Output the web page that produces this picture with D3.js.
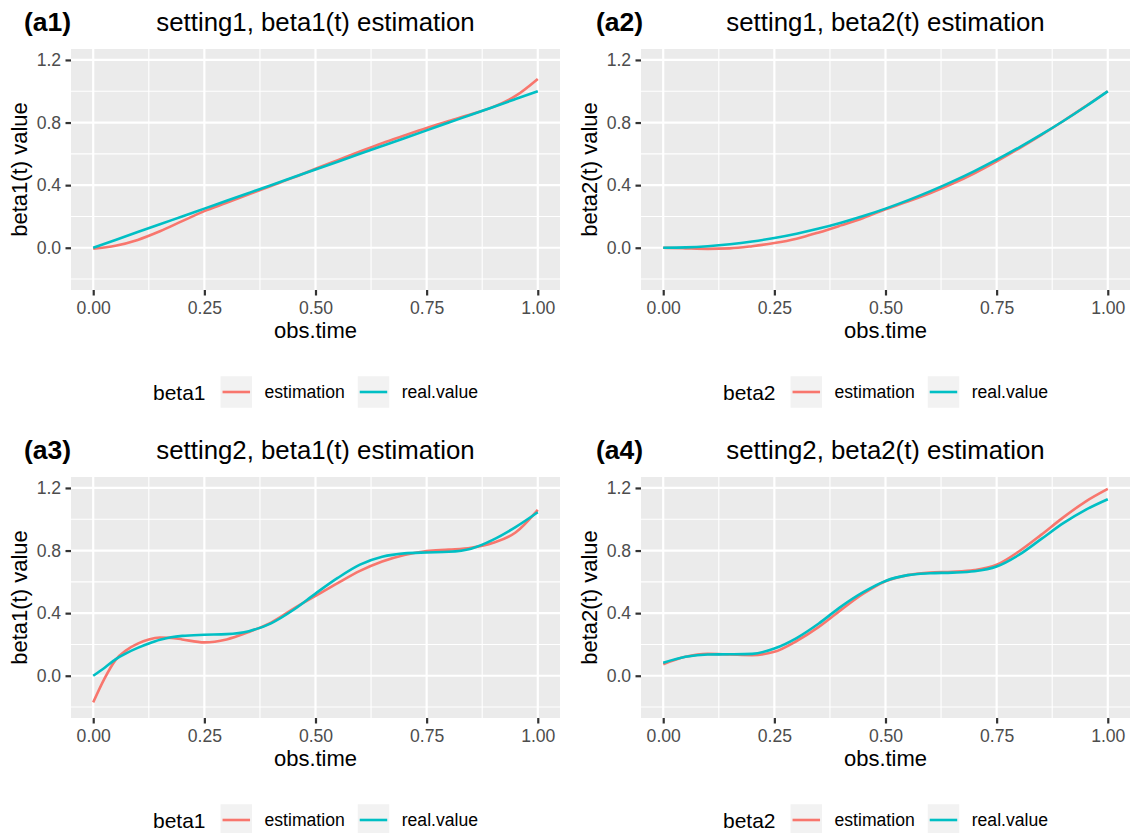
<!DOCTYPE html>
<html>
<head>
<meta charset="utf-8">
<script src="https://cdn.jsdelivr.net/npm/d3@7"></script>
<style>
  body { margin: 0; background: #fff; }
  svg { display: block; font-family: "Liberation Sans", Arial, sans-serif; }
</style>
</head>
<body>
<div id="chart"></div>
<script>
var obsTime = [0, 0.05, 0.1, 0.15, 0.2, 0.25, 0.3, 0.35, 0.4, 0.45, 0.5,
               0.55, 0.6, 0.65, 0.7, 0.75, 0.8, 0.85, 0.9, 0.95, 1];
var obsTimeFine = [0, 0.025, 0.05, 0.075, 0.1, 0.125, 0.15, 0.175, 0.2, 0.25, 0.3, 0.35, 0.4,
                   0.45, 0.5, 0.55, 0.6, 0.65, 0.7, 0.75, 0.8, 0.85, 0.9, 0.95, 1];

// setting1, beta1
var s1b1Est  = [-0.006, 0.013, 0.05, 0.105, 0.17, 0.234, 0.287, 0.342, 0.395, 0.448, 0.505,
                0.56, 0.615, 0.668, 0.717, 0.765, 0.81, 0.853, 0.9, 0.97, 1.079];
var s1b1Real = [0, 0.05, 0.1, 0.15, 0.2, 0.25, 0.3, 0.35, 0.4, 0.45, 0.5,
                0.55, 0.6, 0.65, 0.7, 0.75, 0.8, 0.85, 0.9, 0.95, 1];
// setting1, beta2
var s1b2Est  = [0, -0.004, -0.007, -0.004, 0.01, 0.03, 0.058, 0.098, 0.143, 0.19, 0.246,
                0.296, 0.348, 0.408, 0.476, 0.552, 0.634, 0.72, 0.81, 0.904, 1.0];
var s1b2Real = [0, 0.0025, 0.01, 0.0225, 0.04, 0.0625, 0.09, 0.1225, 0.16, 0.2025, 0.25,
                0.3025, 0.36, 0.4225, 0.49, 0.5625, 0.64, 0.7225, 0.81, 0.9025, 1];
// setting2, beta1 (finer grid)
var s2b1Est  = [-0.17, -0.02, 0.1, 0.164, 0.205, 0.232, 0.244, 0.242, 0.232, 0.213, 0.232, 0.28, 0.34,
                0.428, 0.51, 0.592, 0.67, 0.73, 0.772, 0.797, 0.806, 0.818, 0.85, 0.915, 1.06];
var s2b1Real = [0, 0.05, 0.105, 0.145, 0.178, 0.206, 0.23, 0.246, 0.255, 0.262, 0.266, 0.285, 0.335,
                0.42, 0.525, 0.625, 0.71, 0.76, 0.782, 0.788, 0.792, 0.812, 0.87, 0.95, 1.045];
// setting2, beta2
var s2b2Est  = [0.074, 0.121, 0.14, 0.136, 0.132, 0.153, 0.222, 0.312, 0.421, 0.524, 0.604,
                0.643, 0.66, 0.664, 0.675, 0.709, 0.794, 0.9, 1.012, 1.113, 1.194];
var s2b2Real = [0.083, 0.121, 0.136, 0.137, 0.14, 0.174, 0.241, 0.334, 0.442, 0.534, 0.606,
                0.643, 0.655, 0.659, 0.668, 0.698, 0.772, 0.873, 0.975, 1.06, 1.128];

var seriesNames = ["estimation", "real.value"];
var seriesColors = ["#F8766D", "#00BFC4"];
var xBreaks = [0, 0.25, 0.5, 0.75, 1];
var xMinor = [0.125, 0.375, 0.625, 0.875];
var yBreaks = [0, 0.4, 0.8, 1.2];
var yMinor = [-0.2, 0.2, 0.6, 1.0];

var panels = [
  {tag: "(a1)", title: "setting1, beta1(t) estimation", ylab: "beta1(t) value", legend: "beta1",
   t: obsTime, est: s1b1Est, real: s1b1Real, col: 0, row: 0},
  {tag: "(a2)", title: "setting1, beta2(t) estimation", ylab: "beta2(t) value", legend: "beta2",
   t: obsTime, est: s1b2Est, real: s1b2Real, col: 1, row: 0},
  {tag: "(a3)", title: "setting2, beta1(t) estimation", ylab: "beta1(t) value", legend: "beta1",
   t: obsTimeFine, est: s2b1Est, real: s2b1Real, col: 0, row: 1},
  {tag: "(a4)", title: "setting2, beta2(t) estimation", ylab: "beta2(t) value", legend: "beta2",
   t: obsTime, est: s2b2Est, real: s2b2Real, col: 1, row: 1}
];

var width = 1136, height = 833;
var panelW = 489, panelH = 241;
var colX = [71, 641];
var rowY = [49, 477];
var tagX = [24, 596];

var svg = d3.select("#chart").append("svg")
    .attr("width", width)
    .attr("height", height);

panels.forEach(function (p) {
    var left = colX[p.col], top = rowY[p.row];
    var g = svg.append("g").attr("transform", "translate(" + left + "," + top + ")");

    var x = d3.scaleLinear().domain([-0.05, 1.05]).range([0, panelW]);
    var y = d3.scaleLinear().domain([-0.27, 1.27]).range([panelH, 0]);

    g.append("rect")
        .attr("width", panelW).attr("height", panelH)
        .attr("fill", "#EBEBEB");

    // grid
    g.selectAll(".ymin").data(yMinor).enter().append("line")
        .attr("x1", 0).attr("x2", panelW)
        .attr("y1", function (d) { return y(d); }).attr("y2", function (d) { return y(d); })
        .attr("stroke", "#fff").attr("stroke-width", 1.1);
    g.selectAll(".xmin").data(xMinor).enter().append("line")
        .attr("y1", 0).attr("y2", panelH)
        .attr("x1", function (d) { return x(d); }).attr("x2", function (d) { return x(d); })
        .attr("stroke", "#fff").attr("stroke-width", 1.1);
    g.selectAll(".ymaj").data(yBreaks).enter().append("line")
        .attr("x1", 0).attr("x2", panelW)
        .attr("y1", function (d) { return y(d); }).attr("y2", function (d) { return y(d); })
        .attr("stroke", "#fff").attr("stroke-width", 2.2);
    g.selectAll(".xmaj").data(xBreaks).enter().append("line")
        .attr("y1", 0).attr("y2", panelH)
        .attr("x1", function (d) { return x(d); }).attr("x2", function (d) { return x(d); })
        .attr("stroke", "#fff").attr("stroke-width", 2.2);

    // axes
    var xAxis = d3.axisBottom(x).tickValues(xBreaks).tickSize(5.5).tickPadding(6)
        .tickFormat(d3.format(".2f"));
    var yAxis = d3.axisLeft(y).tickValues(yBreaks).tickSize(5.5).tickPadding(4.4)
        .tickFormat(d3.format(".1f"));

    var xg = g.append("g").attr("transform", "translate(0," + panelH + ")").call(xAxis);
    var yg = g.append("g").call(yAxis);
    [xg, yg].forEach(function (ax) {
        ax.select(".domain").remove();
        ax.selectAll(".tick line").attr("stroke", "#333333").attr("stroke-width", 2.2);
        ax.selectAll(".tick text")
            .attr("fill", "#4D4D4D")
            .style("font-size", "17.6px")
            .style("font-family", "'Liberation Sans', Arial, sans-serif");
    });

    // lines
    var line = d3.line()
        .x(function (d) { return x(d[0]); })
        .y(function (d) { return y(d[1]); })
        .curve(d3.curveMonotoneX);
    [p.est, p.real].forEach(function (vals, i) {
        var pts = p.t.map(function (t, j) { return [t, vals[j]]; });
        g.append("path")
            .datum(pts)
            .attr("d", line)
            .attr("fill", "none")
            .attr("stroke", seriesColors[i])
            .attr("stroke-width", 2.6);
    });

    // titles
    svg.append("text")
        .attr("x", tagX[p.col]).attr("y", top - 18)
        .attr("font-size", 26.5).attr("font-weight", "bold")
        .text(p.tag);
    svg.append("text")
        .attr("x", left + panelW / 2).attr("y", top - 18)
        .attr("text-anchor", "middle")
        .attr("font-size", 25.8)
        .text(p.title);
    svg.append("text")
        .attr("x", left + panelW / 2).attr("y", top + panelH + 48)
        .attr("text-anchor", "middle")
        .attr("font-size", 22)
        .text("obs.time");
    svg.append("text")
        .attr("transform", "translate(" + (left - 44) + "," + (top + panelH / 2) + ") rotate(-90)")
        .attr("text-anchor", "middle")
        .attr("font-size", 22)
        .text(p.ylab);

    // legend
    var legY = top + panelH + 102;   // key centre
    var lg = svg.append("g");
    var ttl = lg.append("text").attr("y", legY + 7.5).attr("font-size", 21).text(p.legend);
    var pos = ttl.node().getComputedTextLength() + 15;
    var key = 31.5;
    seriesNames.forEach(function (name, i) {
        lg.append("rect")
            .attr("x", pos).attr("y", legY - key / 2)
            .attr("width", key).attr("height", key)
            .attr("fill", "#F2F2F2");
        lg.append("line")
            .attr("x1", pos + 2).attr("x2", pos + key - 2)
            .attr("y1", legY).attr("y2", legY)
            .attr("stroke", seriesColors[i]).attr("stroke-width", 2.6);
        pos += key + 12.5;
        var tx = lg.append("text")
            .attr("x", pos).attr("y", legY + 6.3)
            .attr("font-size", 17.6)
            .text(name);
        pos += tx.node().getComputedTextLength();
        if (i < seriesNames.length - 1) pos += 13;
    });
    lg.attr("transform", "translate(" + (left + panelW / 2 - pos / 2) + ",0)");
});
</script>
</body>
</html>
